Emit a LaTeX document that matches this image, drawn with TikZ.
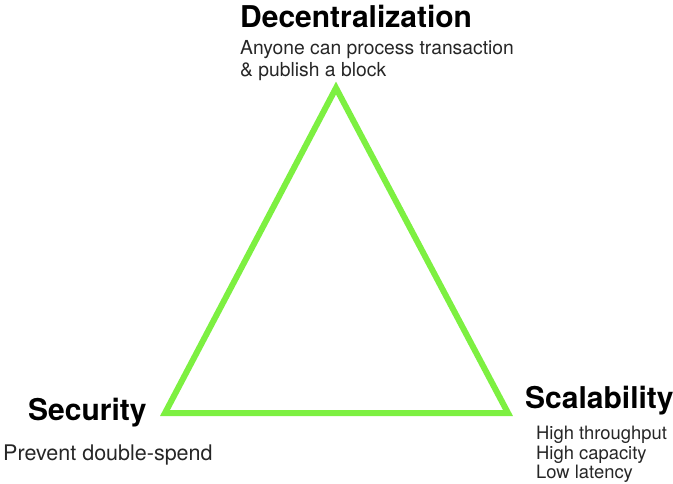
\documentclass[tikz,border=0pt]{standalone}
\usepackage{fontspec}
\setmainfont{TeX Gyre Heros}
\usepackage{xcolor}
\definecolor{trigreen}{RGB}{125,240,65}

\begin{document}
\begin{tikzpicture}[x=1pt, y=-1pt,
		title/.style={font=\bfseries\fontsize{30}{32}\selectfont, inner sep=0pt, anchor=base west},
		note/.style={font=\fontsize{19.3}{22}\selectfont, inner sep=0pt, anchor=base west, text=black!85}]
			\useasboundingbox (0,0) rectangle (673,484);
			\coordinate (dec) at (336,88);
			\coordinate (sec) at (165,413);
			\coordinate (sca) at (508,413);
			\draw[trigreen, line width=6pt, line join=miter] (dec) -- (sca) -- (sec) -- cycle;
			
			\node[title] (dectitle) at (240,28) {Decentralization};
			\node[note] (dec1) at (240,55) {Anyone can process transaction};
			\node[note] (dec2) at (240,77) {\& publish a block};
			
			\node[title] (sectitle) at (28,420) {Security};
			\node[note, font=\fontsize{21.5}{24}\selectfont] (sec1) at (3,460) {Prevent double-spend};
			
			\node[title] (scatitle) at (525,408) {Scalability};
			\foreach \t [count=\i] in {High throughput, High capacity, Low latency}
			\node[note, font=\fontsize{18.4}{21}\selectfont] (sca\i) at (536,420+19.5*\i) {\t};
		\end{tikzpicture}
\end{document}
